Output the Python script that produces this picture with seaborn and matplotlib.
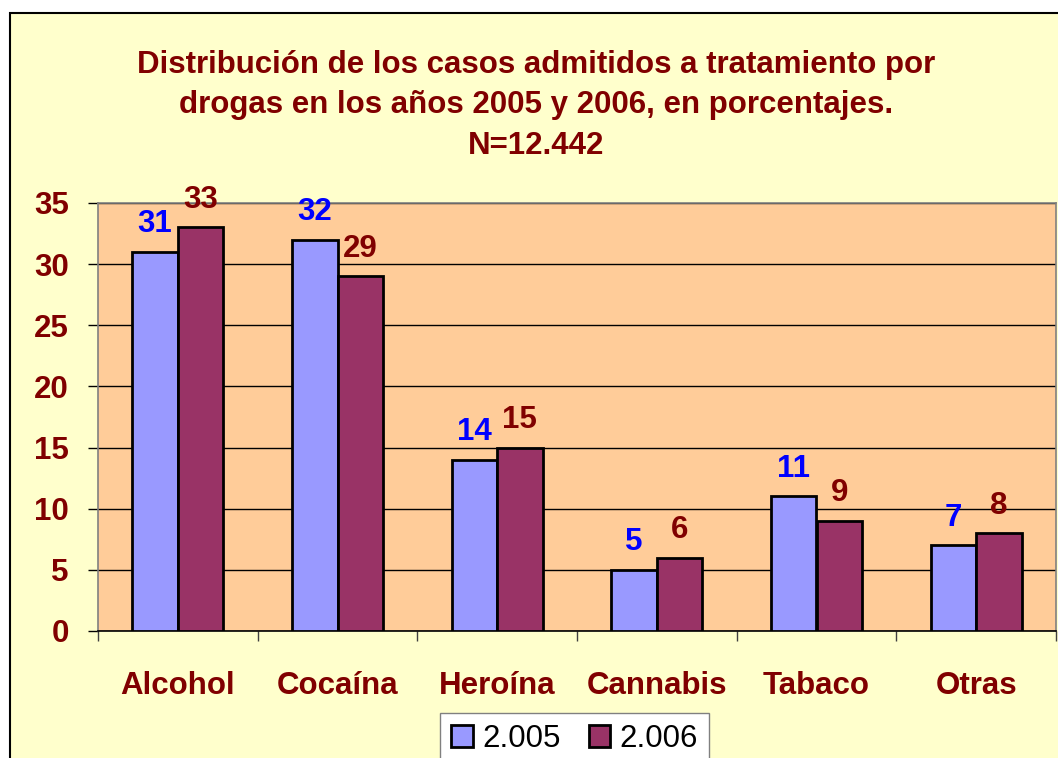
import matplotlib
matplotlib.use("Agg")
import matplotlib.pyplot as plt
from matplotlib.patches import Rectangle
from matplotlib.ticker import MultipleLocator
import seaborn as sns
import pandas as pd

drogas = ["Alcohol", "Cocaína", "Heroína", "Cannabis", "Tabaco", "Otras"]
pct_2005 = [31, 32, 14, 5, 11, 7]
pct_2006 = [33, 29, 15, 6, 9, 8]
anios = ["2.005", "2.006"]

df = pd.DataFrame({
    "droga": drogas * 2,
    "pct": pct_2005 + pct_2006,
    "anio": [anios[0]] * len(drogas) + [anios[1]] * len(drogas),
})

sns.set_style("white")
plt.rcParams["font.family"] = ["Liberation Sans", "DejaVu Sans"]

dark_red = "#800000"
fs = 22.5
fig = plt.figure(figsize=(10.58, 7.58), dpi=100, facecolor="white")

# chart area background with border
fig.patches.append(Rectangle((10 / 1058, -0.1), 1.2, 1 - 13 / 758 + 0.1,
                             transform=fig.transFigure, facecolor="#FFFFCC",
                             edgecolor="black", linewidth=1.5, zorder=-5))

ax = fig.add_axes([98 / 1058, 1 - 631 / 758, (1056 - 98) / 1058, (631 - 203) / 758])
ax.set_facecolor("#FFCC99")

sns.barplot(data=df, x="droga", y="pct", hue="anio", palette=["#9999FF", "#993366"],
            width=0.57, edgecolor="black", linewidth=2, saturation=1, ax=ax, zorder=3)

ax.set_ylim(0, 35)
ax.set_xlim(-0.5, len(drogas) - 0.5)
ax.yaxis.set_major_locator(MultipleLocator(5))
ax.grid(axis="y", color="black", linewidth=1, zorder=1)
ax.set_axisbelow(True)
ax.set_xlabel("")
ax.set_ylabel("")

for sp in ax.spines.values():
    sp.set_color("#808080")
    sp.set_linewidth(1.2)
ax.spines["bottom"].set_color("black")

ax.tick_params(axis="y", which="major", left=True, length=7, width=1, color="black",
               pad=14, labelsize=fs, labelcolor=dark_red)
for t in ax.get_yticklabels():
    t.set_fontweight("bold")

ax.set_xticks([i + 0.5 for i in range(-1, len(drogas))], minor=True)
ax.tick_params(axis="x", which="minor", bottom=True, length=7, width=1, color="#404040")
ax.tick_params(axis="x", which="major", bottom=False, length=0, pad=29, labelsize=fs,
               labelcolor=dark_red)
for t in ax.get_xticklabels():
    t.set_fontweight("bold")

label_colors = ["#0000FF", dark_red]
for cont, col in zip(ax.containers, label_colors):
    ax.bar_label(cont, fmt="%d", padding=9, color=col, fontsize=fs, fontweight="bold")

handles, labels = ax.get_legend_handles_labels()
ax.get_legend().remove()
leg = fig.legend(handles, labels, loc="upper center", bbox_to_anchor=(0.543, 0.08),
                 ncol=2, fontsize=fs, frameon=True, fancybox=False, handlelength=0.7,
                 handleheight=0.7, handletextpad=0.3, columnspacing=0.9,
                 borderpad=0.35, edgecolor="#808080", facecolor="white", framealpha=1,
                 labelcolor="black")
leg.get_frame().set_linewidth(1)

fig.text(0.507, 1 - 50 / 758,
         "Distribución de los casos admitidos a tratamiento por\n"
         "drogas en los años 2005 y 2006, en porcentajes.\nN=12.442",
         ha="center", va="top", fontsize=fs, fontweight="bold", color=dark_red,
         linespacing=1.45)

fig.savefig("out.png", dpi=100, facecolor=fig.get_facecolor())
